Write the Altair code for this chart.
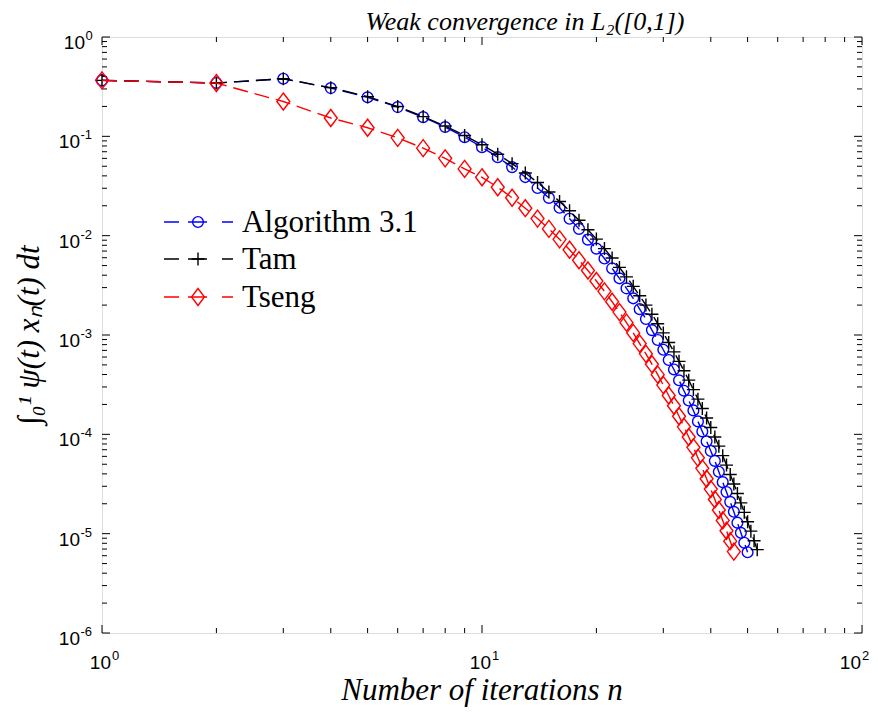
import altair as alt
import pandas as pd

# ---- data (values of the integral per iteration n) ----
alg_vals = [0.366, 0.344, 0.380, 0.306, 0.247, 0.197, 0.156, 0.124, 0.098, 0.0778,
            0.0617, 0.049, 0.0389, 0.0302, 0.024, 0.0191, 0.0148, 0.0117, 0.00912, 0.00741,
            0.00589, 0.00468, 0.00372, 0.00295, 0.00234, 0.00182, 0.00145, 0.00112, 8.9e-4, 7.1e-4,
            5.6e-4, 4.5e-4, 3.5e-4, 2.75e-4, 2.19e-4, 1.74e-4, 1.35e-4, 1.07e-4, 8.5e-5, 6.8e-5,
            5.4e-5, 4.2e-5, 3.3e-5, 2.63e-5, 2.09e-5, 1.66e-5, 1.29e-5, 1.02e-5, 8.1e-6, 6.5e-6]
tam_vals = [0.366, 0.344, 0.380, 0.309, 0.251, 0.1995, 0.158, 0.127, 0.102, 0.0822,
            0.0661, 0.0531, 0.0427, 0.0343, 0.0275, 0.0221, 0.0178, 0.0143, 0.01148, 0.00923,
            0.00741, 0.00596, 0.00479, 0.00385, 0.00309, 0.00248, 0.0020, 0.00162, 0.0013, 0.00105,
            8.4e-4, 6.76e-4, 5.43e-4, 4.37e-4, 3.51e-4, 2.82e-4, 2.26e-4, 1.82e-4, 1.46e-4, 1.17e-4,
            9.4e-5, 7.6e-5, 6.1e-5, 4.9e-5, 3.94e-5, 3.16e-5, 2.54e-5, 2.04e-5, 1.64e-5, 1.32e-5,
            1.06e-5, 8.5e-6, 6.9e-6]
tseng_vals = [0.366, 0.344, 0.224, 0.153, 0.122, 0.0966, 0.076, 0.060, 0.047, 0.0387,
              0.0307, 0.0241, 0.0189, 0.01486, 0.0117, 0.00918, 0.00721, 0.00566, 0.00446, 0.0035,
              0.00275, 0.00216, 0.0017, 0.00133, 0.00105, 8.2e-4, 6.46e-4, 5.08e-4, 3.99e-4, 3.13e-4,
              2.46e-4, 1.94e-4, 1.52e-4, 1.19e-4, 9.4e-5, 7.4e-5, 5.8e-5, 4.55e-5, 3.57e-5, 2.81e-5,
              2.21e-5, 1.73e-5, 1.36e-5, 1.07e-5, 8.4e-6, 6.6e-6]

series_names = ["Algorithm 3.1", "Tam", "Tseng"]
series_vals = [alg_vals, tam_vals, tseng_vals]
series_colors = ["#0000FF", "#000000", "#FF0000"]

# axis ticks and tick labels (base 10 with exponent)
x_major = [1, 10, 100]
x_exp = ["0", "1", "2"]
x_minor = [2, 3, 4, 5, 6, 7, 8, 9, 20, 30, 40, 50, 60, 70, 80, 90]
y_major = [1e-6, 1e-5, 1e-4, 1e-3, 1e-2, 1e-1, 1]
y_exp = ["-6", "-5", "-4", "-3", "-2", "-1", "0"]
y_minor = [k * 10.0 ** e for e in range(-6, 0) for k in range(2, 10)]

title_text = "Weak convergence in L\u2082([0,1])"
x_title = "Number of iterations n"
y_title = "\u222b\u2080\u00b9 \u03c8(t) x\u2099(t) dt"

W, H = 760, 596
SERIF = "Liberation Serif"
SANS = "Liberation Sans"

# marker shapes
CIRCLE = "circle"
PLUS = "M-1,0L1,0M0,-1L0,1"
DIAMOND = "M0,-1L0.76,0L0,1L-0.76,0Z"
shapes = [CIRCLE, PLUS, DIAMOND]
sizes = [115, 169, 289]

xscale = alt.Scale(type="log", domain=[1, 100], nice=False)
yscale = alt.Scale(type="log", domain=[1e-6, 1], nice=False)

def X(field):
    return alt.X(field, scale=xscale, axis=None)

def Y(field):
    return alt.Y(field, scale=yscale, axis=None)

layers = []

# inward ticks on all four sides
def xticks(vals, length):
    df = pd.DataFrame({"v": vals})
    bottom = alt.Chart(df).mark_rule(color="black", strokeWidth=1).encode(
        x=X("v:Q"), y=alt.value(H), y2=alt.value(H - length))
    top = alt.Chart(df).mark_rule(color="black", strokeWidth=1).encode(
        x=X("v:Q"), y=alt.value(0), y2=alt.value(length))
    return [bottom, top]

def yticks(vals, length):
    df = pd.DataFrame({"v": vals})
    left = alt.Chart(df).mark_rule(color="black", strokeWidth=1).encode(
        y=Y("v:Q"), x=alt.value(0), x2=alt.value(length))
    right = alt.Chart(df).mark_rule(color="black", strokeWidth=1).encode(
        y=Y("v:Q"), x=alt.value(W), x2=alt.value(W - length))
    return [left, right]

layers += xticks(x_major, 8) + xticks(x_minor, 5) + yticks(y_major, 8) + yticks(y_minor, 5)

# tick labels: "10" with a raised exponent
xl = pd.DataFrame({"v": x_major, "e": x_exp, "b": ["10"] * len(x_major)})
for sub, shift in [(xl[xl["v"] < 100], 9), (xl[xl["v"] == 100], -1)]:
    layers.append(alt.Chart(sub).mark_text(align="right", baseline="alphabetic", font=SANS, fontSize=19,
                                           color="black", dx=shift).encode(
        x=X("v:Q"), y=alt.value(H + 36), text="b:N"))
    layers.append(alt.Chart(sub).mark_text(align="left", baseline="alphabetic", font=SANS, fontSize=13,
                                           color="black", dx=shift + 1).encode(
        x=X("v:Q"), y=alt.value(H + 27), text="e:N"))

yl = pd.DataFrame({"v": y_major, "e": y_exp, "b": ["10"] * len(y_major)})
for sub, right_x in [(yl[yl["e"] != "0"], -22), (yl[yl["e"] == "0"], -17)]:
    layers.append(alt.Chart(sub).mark_text(align="right", baseline="alphabetic", font=SANS, fontSize=19,
                                           color="black", dy=12).encode(
        y=Y("v:Q"), x=alt.value(right_x), text="b:N"))
    layers.append(alt.Chart(sub).mark_text(align="left", baseline="alphabetic", font=SANS, fontSize=13,
                                           color="black", dy=3).encode(
        y=Y("v:Q"), x=alt.value(right_x + 0.5), text="e:N"))

# series
for name, vals, color, shape, size in zip(series_names, series_vals, series_colors, shapes, sizes):
    df = pd.DataFrame({"n": list(range(1, len(vals) + 1)), "value": vals, "series": name})
    enc = dict(x=X("n:Q"), y=Y("value:Q"))
    layers.append(alt.Chart(df).mark_line(color=color, strokeDash=[15, 7], strokeWidth=1.4).encode(**enc))
    layers.append(alt.Chart(df).mark_point(shape=shape, size=size, color=color, filled=False,
                                           strokeWidth=1.4, opacity=1).encode(**enc))

# legend (drawn as marks inside the plot area, top-left)
leg_y = [185, 222, 260]
for name, color, shape, size, ly in zip(series_names, series_colors, shapes, sizes, leg_y):
    ldf = pd.DataFrame({"label": [name]})
    layers.append(alt.Chart(ldf).mark_rule(color=color, strokeWidth=1.4, strokeDash=[15, 9, 19, 15, 11]).encode(
        x=alt.value(62), x2=alt.value(131), y=alt.value(ly)))
    layers.append(alt.Chart(ldf).mark_point(shape=shape, size=size, color=color, filled=False,
                                            strokeWidth=1.4, opacity=1).encode(x=alt.value(96), y=alt.value(ly)))
    layers.append(alt.Chart(ldf).mark_text(align="left", baseline="middle", font=SERIF, fontSize=31,
                                           color="black", dy=1).encode(x=alt.value(140), y=alt.value(ly),
                                                                       text=alt.Text("label:N")))

# titles
tdf = pd.DataFrame({"t": [title_text], "xt": [x_title], "yt": [y_title]})
layers.append(alt.Chart(tdf).mark_text(align="center", baseline="alphabetic", font=SERIF, fontStyle="italic",
                                       fontSize=26, color="black").encode(
    x=alt.value(423), y=alt.value(-7), text="t:N"))
layers.append(alt.Chart(tdf).mark_text(align="center", baseline="alphabetic", font=SERIF, fontStyle="italic",
                                       fontSize=31, color="black").encode(
    x=alt.value(W / 2), y=alt.value(H + 67), text="xt:N"))
layers.append(alt.Chart(tdf).mark_text(align="center", baseline="middle", font=SERIF, fontStyle="italic",
                                       fontSize=31, color="black", angle=270).encode(
    x=alt.value(-72), y=alt.value(H / 2), text="yt:N"))

chart = alt.layer(*layers).properties(
    width=W, height=H,
    autosize=alt.AutoSizeParams(type="none"),
    padding={"left": 94, "top": 29, "right": 8, "bottom": 75},
).configure_view(stroke="black", strokeWidth=1.3).configure(background="white")

chart.save("out.html", embed_options={"renderer": "svg", "actions": False})
